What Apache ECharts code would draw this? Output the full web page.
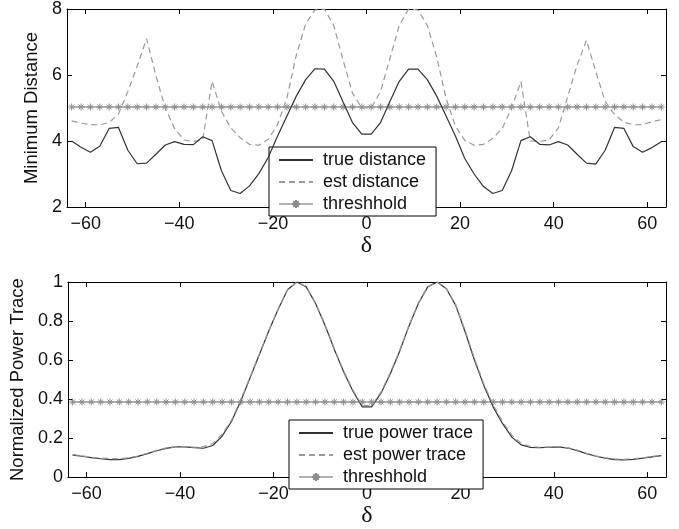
<!DOCTYPE html>
<html><head><meta charset="utf-8">
<script src="https://cdn.jsdelivr.net/npm/echarts@6/dist/echarts.min.js"></script>
<style>html,body{margin:0;padding:0;background:#fff}#c{width:679px;height:529px}</style>
</head><body><div id="c"></div>
<script>
// delta values (x)
const delta = [-63,-61,-59,-57,-55,-53,-51,-49,-47,-45,-43,-41,-39,-37,-35,-33,-31,-29,-27,-25,-23,-21,-19,-17,-15,-13,-11,-9,-7,-5,-3,-1,
  1,3,5,7,9,11,13,15,17,19,21,23,25,27,29,31,33,35,37,39,41,43,45,47,49,51,53,55,57,59,61,63];
const trueDist = [4.0,3.81,3.66,3.84,4.38,4.41,3.72,3.31,3.33,3.6,3.88,3.98,3.9,3.89,4.13,4.01,3.1,2.5,2.41,2.64,3.01,3.5,4.15,4.76,5.36,5.86,6.19,6.18,5.81,5.18,4.56,4.21,
  4.21,4.56,5.2,5.81,6.18,6.18,5.86,5.36,4.76,4.15,3.47,3.0,2.62,2.41,2.5,3.1,4.01,4.13,3.9,3.88,3.98,3.88,3.6,3.33,3.3,3.72,4.41,4.38,3.83,3.66,3.8,3.98];
const estDist = [4.61,4.54,4.5,4.49,4.56,4.82,5.5,6.27,7.1,5.98,5.0,4.38,4.03,3.99,4.03,5.81,4.9,4.4,4.1,3.9,3.87,4.05,4.5,5.31,6.6,7.55,7.97,8.0,7.5,6.45,5.45,5.0,
  5.0,5.5,6.5,7.5,8.0,7.97,7.5,6.55,5.3,4.45,4.02,3.87,3.9,4.08,4.38,5.0,5.8,4.0,3.99,4.03,4.4,5.35,6.3,7.05,6.1,5.2,4.8,4.57,4.49,4.5,4.58,4.65];
const threshDist = 5.03;
const truePow = [0.113,0.107,0.100,0.094,0.090,0.090,0.096,0.106,0.120,0.135,0.147,0.155,0.155,0.151,0.148,0.162,0.210,0.285,0.390,0.510,0.630,0.750,0.860,0.960,1.000,0.975,0.890,0.780,0.655,0.540,0.440,0.360,
  0.360,0.430,0.530,0.645,0.775,0.890,0.975,1.000,0.965,0.880,0.745,0.600,0.470,0.360,0.275,0.205,0.165,0.152,0.151,0.153,0.155,0.149,0.136,0.120,0.107,0.097,0.090,0.088,0.091,0.097,0.104,0.110];
const estPow = [0.116,0.109,0.102,0.098,0.095,0.094,0.099,0.108,0.122,0.137,0.149,0.156,0.156,0.153,0.156,0.172,0.220,0.292,0.395,0.515,0.633,0.752,0.862,0.962,1.000,0.976,0.892,0.783,0.660,0.545,0.446,0.366,
  0.366,0.436,0.536,0.650,0.778,0.892,0.976,1.000,0.967,0.884,0.752,0.608,0.478,0.370,0.285,0.215,0.172,0.156,0.153,0.155,0.156,0.151,0.138,0.122,0.109,0.099,0.093,0.091,0.094,0.099,0.106,0.112];
const threshPow = 0.385;
const xTicks = [-60,-40,-20,0,20,40,60];

const FONT = '"Liberation Sans", Arial, Helvetica, sans-serif';
const minus = v => String(v).replace('-', '\u2212');
const zip = (xs, ys) => xs.map((x, i) => [x, ys[i]]);
const flat = (xs, v) => xs.map(x => [x, v]);
const ASTER = 'path://M0,5L10,5M5,0L5,10M1.5,1.5L8.5,8.5M8.5,1.5L1.5,8.5';

function xAxis(g, pos) {
  const main = pos === 'bottom';
  return {
    type: 'value', gridIndex: g, position: pos, min: -64, max: 64,
    axisLine: { show: true, onZero: false, lineStyle: { color: '#000', width: 1 } },
    axisTick: { show: true, inside: true, length: 5, customValues: xTicks, lineStyle: { color: '#000' } },
    axisLabel: { show: main, customValues: xTicks, formatter: minus, fontSize: 18, fontFamily: FONT, color: '#111', margin: 8 },
    splitLine: { show: false },
    name: main ? '\u03b4' : '', nameLocation: 'middle', nameGap: 19,
    nameTextStyle: { fontFamily: '"Liberation Serif", "DejaVu Serif", serif', fontSize: 24, color: '#111' }
  };
}
function yAxis(g, pos, min, max, interval, name, gap) {
  const main = pos === 'left';
  return {
    type: 'value', gridIndex: g, position: pos, min, max, interval,
    axisLine: { show: true, onZero: false, lineStyle: { color: '#000', width: 1 } },
    axisTick: { show: true, inside: true, length: 5, lineStyle: { color: '#000' } },
    axisLabel: { show: main, fontSize: 18, fontFamily: FONT, color: '#111', margin: 5 },
    splitLine: { show: false },
    name: main ? name : '', nameLocation: 'middle', nameGap: gap,
    nameTextStyle: { fontFamily: FONT, fontSize: 18.5, color: '#111' }
  };
}
const noSym = { color: 'rgba(0,0,0,0)', borderWidth: 0, opacity: 0 };
function legend(left, top, names) {
  return {
    left, top, orient: 'vertical', selectedMode: false,
    data: [
      { name: names[0], itemStyle: noSym },
      { name: names[1], itemStyle: noSym },
      { name: names[2] }
    ],
    itemWidth: 34, itemHeight: 10, itemGap: 4,
    padding: [4, 10, 3, 9], borderColor: '#000', borderWidth: 1, borderRadius: 0, backgroundColor: '#fff',
    textStyle: { fontSize: 18, fontFamily: FONT, color: '#111', padding: [0, 0, 0, 5] }
  };
}
const solid = { color: '#333', width: 1.2 };
const dashed = { color: '#9a9a9a', width: 1.2, type: [6, 4] };
const thrLine = { color: '#b3b3b3', width: 2 };
const thrItem = { color: '#8c8c8c', borderColor: '#8c8c8c', borderWidth: 1 };

const chart = echarts.init(document.getElementById('c'), null, { renderer: 'canvas' });
chart.setOption({
  animation: false,
  backgroundColor: '#fff',
  grid: [
    { left: 67, top: 7, width: 599, height: 200 },
    { left: 67, top: 282, width: 599, height: 200 }
  ],
  xAxis: [xAxis(0, 'bottom'), xAxis(0, 'top'), xAxis(1, 'bottom'), xAxis(1, 'top')],
  yAxis: [
    yAxis(0, 'left', 2, 8, 2, 'Minimum Distance', 17),
    yAxis(0, 'right', 2, 8, 2, '', 0),
    yAxis(1, 'left', 0, 1, 0.2, 'Normalized Power Trace', 33),
    yAxis(1, 'right', 0, 1, 0.2, '', 0)
  ],
  legend: [
    legend(269, 147, ['true distance', 'est distance', 'threshhold']),
    legend(289, 420, ['true power trace', 'est power trace', 'threshhold'])
  ],
  series: [
    { name: 'threshhold', type: 'line', xAxisIndex: 0, yAxisIndex: 0, data: flat(delta, threshDist),
      symbol: ASTER, symbolSize: 7, lineStyle: thrLine, itemStyle: thrItem, z: 2 },
    { name: 'est distance', type: 'line', xAxisIndex: 0, yAxisIndex: 0, data: zip(delta, estDist),
      symbol: 'none', lineStyle: dashed, itemStyle: { color: '#9a9a9a' }, z: 3 },
    { name: 'true distance', type: 'line', xAxisIndex: 0, yAxisIndex: 0, data: zip(delta, trueDist),
      symbol: 'none', lineStyle: solid, itemStyle: { color: '#333' }, z: 4 },
    { name: 'threshhold', type: 'line', xAxisIndex: 2, yAxisIndex: 2, data: flat(delta, threshPow),
      symbol: ASTER, symbolSize: 7, lineStyle: thrLine, itemStyle: thrItem, z: 2 },
    { name: 'true power trace', type: 'line', xAxisIndex: 2, yAxisIndex: 2, data: zip(delta, truePow),
      symbol: 'none', lineStyle: solid, itemStyle: { color: '#333' }, z: 3 },
    { name: 'est power trace', type: 'line', xAxisIndex: 2, yAxisIndex: 2, data: zip(delta, estPow),
      symbol: 'none', lineStyle: dashed, itemStyle: { color: '#9a9a9a' }, z: 4 }
  ]
});
</script></body></html>
